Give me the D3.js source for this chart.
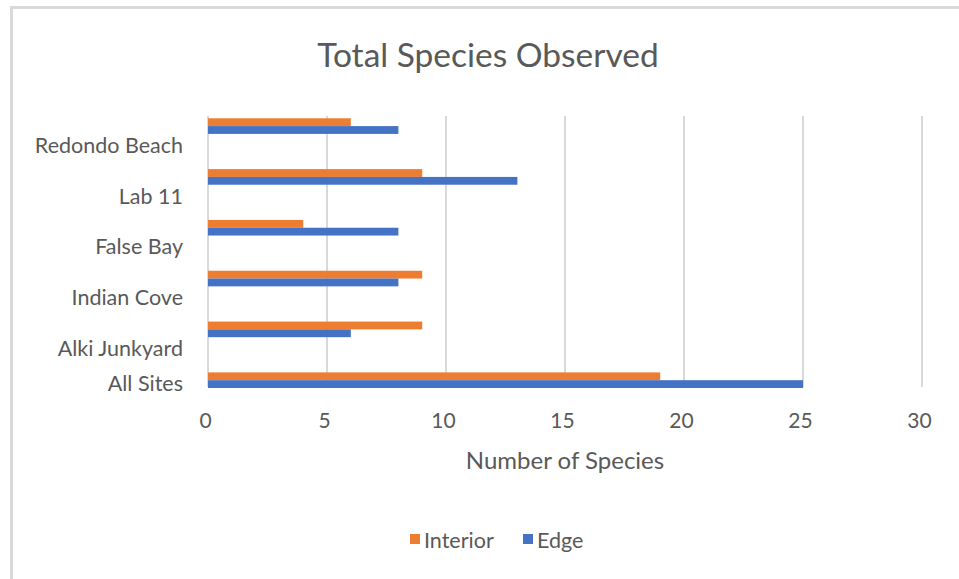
<!DOCTYPE html>
<html>
<head>
<meta charset="utf-8">
<script src="https://cdn.jsdelivr.net/npm/d3@7/dist/d3.min.js"></script>
<style>
  html, body { margin: 0; padding: 0; background: #fff; }
  svg { display: block; font-family: Lato, "Open Sans", sans-serif; }
</style>
</head>
<body>
<svg id="chart" width="959" height="579"></svg>
<script>
const categories = ["Redondo Beach", "Lab 11", "False Bay", "Indian Cove", "Alki Junkyard", "All Sites"];
const interiorValues = [6, 9, 4, 9, 9, 19];
const edgeValues = [8, 13, 8, 8, 6, 25];
const seriesNames = ["Interior", "Edge"];
const seriesColors = ["#ED7D31", "#4472C4"];
const xTicks = [0, 5, 10, 15, 20, 25, 30];
const chartTitle = "Total Species Observed";
const xAxisTitle = "Number of Species";

const svg = d3.select("#chart");
const textColor = "#595959";

// chart border
svg.append("path")
  .attr("d", "M11.5,579 L11.5,7.5 L959,7.5")
  .attr("fill", "none").attr("stroke", "#d9d9d9").attr("stroke-width", 3);

const plotLeft = 208, plotRight = 922, plotTop = 116, plotBottom = 387;

const x = d3.scaleLinear().domain([0, 30]).range([plotLeft, plotRight]);
const y = d3.scaleBand().domain(categories)
  .range([118.3, 388]).paddingInner(0.693).paddingOuter(0).align(0);
const sub = d3.scaleBand().domain(seriesNames).range([0, y.bandwidth()]);

// gridlines
svg.append("g").selectAll("line").data(xTicks).join("line")
  .attr("x1", d => x(d)).attr("x2", d => x(d))
  .attr("y1", plotTop).attr("y2", plotBottom)
  .attr("stroke", "#d9d9d9").attr("stroke-width", 2);

// bars
const rows = categories.map((c, i) => ({ c, vals: [interiorValues[i], edgeValues[i]] }));
const g = svg.append("g").selectAll("g").data(rows).join("g")
  .attr("transform", d => `translate(0,${y(d.c)})`);
g.selectAll("rect").data(d => d.vals.map((v, j) => ({ v, s: seriesNames[j], col: seriesColors[j] })))
  .join("rect")
  .attr("x", x(0))
  .attr("y", d => sub(d.s))
  .attr("width", d => x(d.v) - x(0))
  .attr("height", sub.bandwidth())
  .attr("fill", d => d.col);

// category labels
svg.append("g").selectAll("text").data(categories).join("text")
  .attr("x", 183)
  .attr("y", d => Math.min(y(d) + 27, plotBottom - 4))
  .attr("dy", "0.35em")
  .attr("text-anchor", "end")
  .attr("fill", textColor)
  .attr("font-size", 21.5)
  .text(d => d);

// x axis tick labels
const xAxis = d3.axisBottom(x).tickValues(xTicks).tickSize(0).tickPadding(0);
const ax = svg.append("g").attr("transform", `translate(-3,${421})`).call(xAxis);
ax.select(".domain").remove();
ax.selectAll("text").attr("dy", "0.35em").attr("font-size", 21).attr("fill", textColor)
  .attr("font-family", "Lato, 'Open Sans', sans-serif");

// axis title
svg.append("text").attr("x", 565).attr("y", 461).attr("dy", "0.35em")
  .attr("text-anchor", "middle").attr("font-size", 24).attr("fill", textColor)
  .text(xAxisTitle);

// chart title
svg.append("text").attr("x", 488).attr("y", 55).attr("dy", "0.35em")
  .attr("text-anchor", "middle").attr("font-size", 33.5).attr("fill", textColor)
  .text(chartTitle);

// legend
const legendX = [410, 523];
const lg = svg.append("g").selectAll("g").data(seriesNames).join("g")
  .attr("transform", (d, i) => `translate(${legendX[i]},534)`);
lg.append("rect").attr("width", 10).attr("height", 10).attr("fill", (d, i) => seriesColors[i]);
lg.append("text").attr("x", 14).attr("y", 6).attr("dy", "0.35em")
  .attr("font-size", 21.5).attr("fill", textColor).text(d => d);
</script>
</body>
</html>
